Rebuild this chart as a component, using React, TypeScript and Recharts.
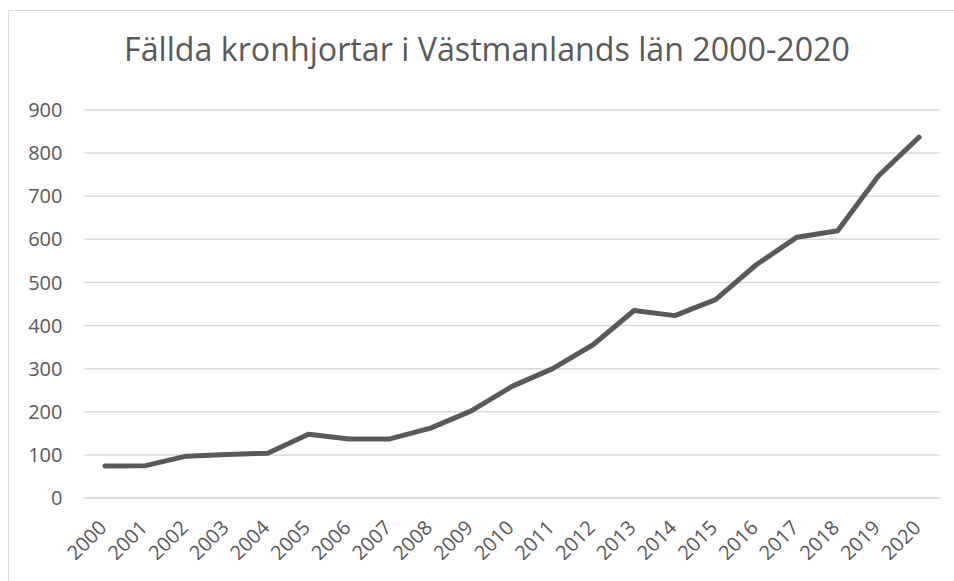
import React from 'react';
import { LineChart, Line, XAxis, YAxis, CartesianGrid } from 'recharts';

const years = ['2000', '2001', '2002', '2003', '2004', '2005', '2006', '2007', '2008', '2009', '2010',
    '2011', '2012', '2013', '2014', '2015', '2016', '2017', '2018', '2019', '2020'];
const killed = [74, 75, 97, 101, 104, 148, 137, 137, 162, 202, 259,
    300, 356, 435, 423, 460, 541, 605, 620, 747, 837];
const yTicks = [0, 100, 200, 300, 400, 500, 600, 700, 800, 900];

const data = years.map((year, i) => ({ year, value: killed[i] }));

const COLORS = {
    line: '#595959',
    grid: '#d9d9d9',
    text: '#595959',
};
const FONT = "'Open Sans', 'Noto Sans', sans-serif";

// rotated year labels, end of text sits just below-right of the tick
const YearTick = ({ x, y, payload }: any) => {
    const tx = x + 3;
    const ty = y + 23;
    return (
        <text
            x={tx}
            y={ty}
            transform={`rotate(-45, ${tx}, ${ty})`}
            textAnchor="end"
            fill={COLORS.text}
            fontSize={20}
            fontFamily={FONT}
        >
            {payload.value}
        </text>
    );
};

export default function App() {
    return (
        <div style={{ position: 'fixed', left: 0, top: 0, width: 954, height: 581, background: '#fff', overflow: 'hidden' }}>
            <div style={{
                position: 'absolute', left: 8, top: 10, width: 960, height: 600,
                border: `1px solid ${COLORS.grid}`, boxSizing: 'border-box',
            }} />
            <div style={{
                position: 'absolute', left: 0, top: 27, width: 974, textAlign: 'center',
                fontFamily: FONT, fontSize: 32.2, color: COLORS.text, whiteSpace: 'nowrap',
            }}>
                Fällda kronhjortar i Västmanlands län 2000-2020
            </div>
            <LineChart
                width={954}
                height={581}
                data={data}
                margin={{ top: 110, right: 14.5, left: 0, bottom: 13 }}
                style={{ position: 'absolute', left: 0, top: 0 }}
            >
                <CartesianGrid vertical={false} stroke={COLORS.grid} strokeWidth={1.5} />
                <XAxis
                    dataKey="year"
                    interval={0}
                    height={70}
                    padding={{ left: 20.4, right: 20.4 }}
                    axisLine={{ stroke: COLORS.grid, strokeWidth: 1.5 }}
                    tickLine={false}
                    tick={<YearTick />}
                />
                <YAxis
                    width={84.5}
                    domain={[0, 900]}
                    ticks={yTicks}
                    axisLine={false}
                    tickLine={false}
                    tickSize={0}
                    tickMargin={22}
                    tick={{ fill: COLORS.text, fontSize: 20, fontFamily: FONT }}
                />
                <Line
                    type="linear"
                    dataKey="value"
                    stroke={COLORS.line}
                    strokeWidth={5}
                    strokeLinecap="round"
                    strokeLinejoin="round"
                    dot={false}
                    isAnimationActive={false}
                />
            </LineChart>
        </div>
    );
}
